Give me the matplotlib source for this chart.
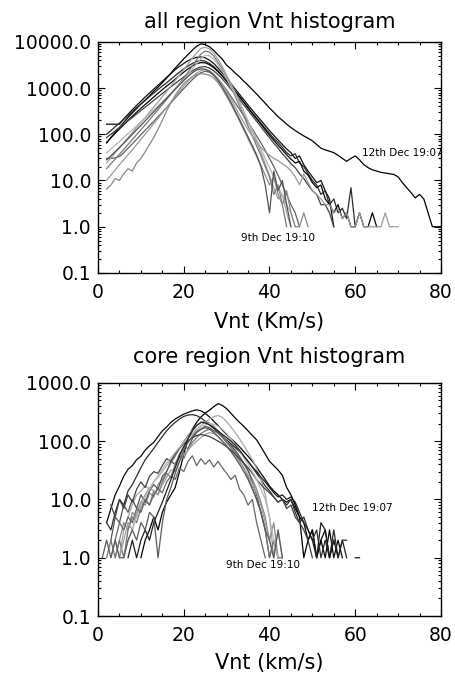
import numpy as np
import matplotlib
matplotlib.use("Agg")
import matplotlib.pyplot as plt
from matplotlib.ticker import (FixedLocator, MultipleLocator, LogLocator,
                               FormatStrFormatter, NullFormatter)

nan = np.nan

# ---------------- all region: counts per 1 km/s bin, first bin at *_start ----------------
all_start = [2, 2, 2, 2, 2, 2, 2, 2, 2, 2, 2, 2]
all_colors = ["#000000", "#111111", "#2a2a2a", "#050505", "#404040", "#606060",
              "#a0a0a0", "#787878", "#b4b4b4", "#888888", "#9a9a9a", "#505050"]
all_01 = [65, 85, 110, 140, 180, 230, 290, 360, 450, 550, 680, 850, 1050, 1300, 1650, 2100, 2700, 3400,
          4300, 5300, 6600, 8000, 9000, 8700, 7800, 6500, 5200, 4200, 3100, 2600, 2100, 1750, 1400, 1150,
          920, 740, 590, 470, 370, 300, 240, 200, 165, 140, 120, 105, 92, 82, 72, 60, 50, 46, 43, 40, 35,
          30, 26, 30, 34, 28, 22, 19, 17, 16, 15, 14.5, 14, 13.5, 12, 9, 7, 5.5, 4.2, 5, 4, 2, 1, 1, 1]
all_02 = [165, 165, 165, 165, 215, 270, 340, 420, 520, 640, 780, 950, 1150, 1400, 1700, 2050, 2500, 2950,
          3400, 3900, 4300, 4600, 4700, 4500, 4000, 3400, 2700, 2100, 1650, 1250, 950, 730, 560, 430, 330,
          255, 200, 155, 120, 95, 75, 60, 48, 40, 30, 34, 22, 16, 12, 9, 10, 6, 4, 1]
all_03 = [100, 120, 145, 175, 210, 255, 310, 375, 450, 540, 650, 780, 930, 1100, 1300, 1550, 1850, 2200,
          2600, 3000, 3400, 3750, 3950, 3800, 3400, 2900, 2350, 1850, 1450, 1100, 850, 650, 500, 380, 290,
          225, 175, 135, 105, 82, 66, 52, 40, 34, 38, 24, 20, 14, 10, 8, 5, 6, 3, 4, 2, 2.5, 1.5, 7, 1]
all_04 = [66, 84, 105, 130, 160, 200, 245, 300, 365, 440, 530, 640, 770, 920, 1100, 1300, 1550, 1850,
          2200, 2600, 3000, 3350, 3550, 3500, 3200, 2750, 2250, 1800, 1400, 1080, 830, 640, 490, 370, 280,
          215, 165, 125, 95, 74, 58, 46, 36, 29, 24, 26, 16, 13, 9, 7, 8, 4, 3, 2, 3, 1.5, 2, 1, 1, 2, 1,
          1, 2, 1]
all_05 = [85, 100, 118, 140, 165, 195, 230, 275, 325, 385, 455, 540, 640, 760, 900, 1060, 1250, 1480,
          1740, 2030, 2350, 2650, 2850, 2900, 2700, 2350, 1950, 1570, 1230, 950, 730, 560, 430, 330, 250,
          190, 145, 110, 84, 64, 50, 38, 30, 23, 19, 14, 11, 8, 6, 5, 3, 3, 2, 1]
all_06 = [30, 30, 31, 33, 40, 50, 62, 78, 98, 122, 152, 190, 240, 300, 380, 480, 610, 770, 970, 1220,
          1520, 1850, 2150, 2300, 2200, 1900, 1550, 1200, 900, 660, 480, 350, 250, 180, 130, 92, 65, 45,
          30, 20, 13, 8, 5, 3, 2, 1]
all_07 = [24, 31, 40, 51, 65, 84, 108, 140, 180, 230, 300, 390, 500, 650, 840, 1100, 1450, 1900, 2500,
          3300, 4400, 5800, 7200, 7600, 7000, 5700, 4200, 2900, 1900, 1250, 800, 500, 310, 190, 115, 70,
          40, 23, 13, 7, 4, 5, 2, 1]
all_08 = [18, 23, 29, 37, 47, 60, 77, 98, 125, 160, 205, 265, 340, 440, 570, 740, 960, 1250, 1650, 2200,
          3000, 4100, 5400, 6300, 6000, 4900, 3600, 2500, 1650, 1050, 660, 410, 250, 150, 92, 56, 34, 20,
          12, 5, 8, 3, 1]
all_09 = [40, 48, 58, 70, 85, 103, 125, 152, 185, 225, 275, 335, 410, 500, 620, 770, 960, 1200, 1520,
          1950, 2550, 3350, 4300, 5100, 5000, 4200, 3200, 2300, 1600, 1080, 720, 470, 300, 190, 120, 76,
          48, 30, 19, 12, 7, 5, 3, 2, 1]
all_10 = [6.5, 8, 11, 10, 14, 18, 16, 24, 30, 42, 60, 85, 130, 200, 320, 480, 700, 950, 1250, 1500,
          1750, 1950, 2040, 2000, 1900, 1650, 1300, 950, 660, 450, 300, 195, 125, 80, 52, 33, 21, 13, 8,
          12, 5, 3, 6, 2, 1, 1, 2, 1]
all_11 = [10, 13, 17, 22, 28, 36, 46, 60, 78, 100, 130, 170, 220, 290, 380, 500, 650, 850, 1100, 1400,
          1750, 2100, 2400, 2500, 2350, 2000, 1600, 1200, 850, 580, 390, 260, 180, 125, 90, 68, 52, 42,
          35, 30, 27, 23, 20, 16, 12, 8, 14, 9, 6, 5, 4, 3, 3, 2, 2.5, 1.5, 2, 1, 1, 2, 1, 1, 1, 1, 1, 2,
          1, 1, 1]
all_12 = [28, 34, 42, 52, 64, 80, 100, 125, 155, 195, 245, 305, 385, 480, 600, 750, 940, 1170, 1450,
          1780, 2150, 2450, 2600, 2550, 2300, 1900, 1450, 1050, 730, 490, 320, 210, 135, 88, 56, 36, 20,
          8, 2, 16, 6, 10, 3, 1]
all_series = [all_01, all_02, all_03, all_04, all_05, all_06,
              all_07, all_08, all_09, all_10, all_11, all_12]

# ---------------- core region ----------------
core_start = [10, 2, 2, 3, 4, 3, 2, 5, 3, 6, 4, 7, 1]
core_colors = ["#000000", "#080808", "#2b2b2b", "#a8a8a8", "#8a8a8a", "#555555", "#747474",
               "#9c9c9c", "#404040", "#b8b8b8", "#666666", "#1e1e1e", "#5a5a5a"]
core_01 = [1, 2, 3, 5, 3, 6, 9, 12, 16, 30, 60, 110, 160, 210, 260, 300, 340, 390, 440, 410, 360, 300,
           250, 210, 180, 150, 125, 105, 80, 60, 45, 38, 32, 26, 16, 12, 8, 5, 1, 2, 3, 1, 2, 3, 1, 2]
core_02 = [4, 7, 12, 17, 25, 33, 38, 48, 55, 70, 83, 95, 120, 150, 175, 210, 240, 265, 290, 310, 330,
           345, 330, 300, 260, 220, 185, 155, 130, 110, 95, 80, 66, 55, 45, 36, 28, 22, 17, 14, 12, 10,
           9, 10, 7, 5, 4, 2, 3, 1, 2, 1, 3, 1, 2, 1]
core_03 = [4, 3, 6, 10, 8, 14, 18, 25, 35, 48, 60, 75, 95, 120, 150, 180, 210, 240, 265, 280, 285, 275,
           250, 220, 190, 165, 140, 120, 105, 90, 78, 66, 55, 45, 36, 28, 22, 17, 14, 11, 9, 10, 8, 10, 6,
           4, 5, 3, 2, 3, 1, 2, 1, 3, 1, 2, 2]
core_04 = [1, 2, 1, 3, 5, 8, 12, 14, 17, 15, 20, 24, 30, 38, 48, 60, 75, 92, 112, 135, 160, 185, 210,
           240, 262, 275, 255, 215, 175, 140, 110, 85, 64, 48, 34, 22, 12, 5, 1]
core_05 = [1, 2, 4, 3, 6, 5, 9, 8, 13, 11, 18, 22, 30, 42, 55, 75, 100, 125, 155, 185, 210, 220, 205,
           180, 150, 125, 100, 82, 66, 52, 40, 30, 22, 15, 9, 5, 2, 4, 1]
core_06 = [2, 5, 4, 8, 6, 10, 7, 12, 9, 14, 18, 15, 25, 30, 45, 40, 60, 80, 75, 110, 140, 160, 180, 170,
           150, 140, 120, 95, 85, 70, 55, 42, 32, 20, 12, 6, 3, 1, 2, 1]
core_07 = [1, 2, 1, 2, 1, 3, 5, 4, 7, 10, 8, 14, 12, 20, 28, 24, 40, 55, 50, 75, 95, 115, 135, 150, 160,
           150, 135, 115, 95, 78, 60, 46, 34, 24, 16, 10, 6, 3, 1, 2, 1, 1]
core_08 = [1, 2, 4, 3, 6, 9, 12, 16, 14, 12, 18, 24, 32, 30, 45, 60, 70, 85, 100, 115, 130, 140, 135,
           120, 100, 85, 70, 56, 44, 34, 26, 19, 13, 8, 4, 2, 1, 3, 1]
core_09 = [8, 5, 10, 7, 12, 9, 15, 20, 16, 25, 30, 28, 38, 50, 45, 60, 75, 90, 100, 115, 125, 130, 125,
           120, 110, 100, 90, 80, 70, 60, 50, 42, 35, 28, 22, 18, 15, 13, 11, 9, 10, 7, 8, 5, 4, 3, 2, 1]
core_10 = [1, 2, 3, 5, 8, 11, 15, 20, 26, 33, 42, 52, 64, 78, 95, 112, 130, 150, 170, 190, 200, 195,
           180, 160, 135, 110, 88, 68, 52, 40, 30, 22, 15, 10, 5, 2, 1]
core_11 = [2, 4, 3, 5, 4, 7, 6, 10, 8, 12, 15, 13, 20, 25, 22, 35, 30, 45, 56, 38, 50, 40, 48, 36, 45,
           35, 28, 22, 26, 15, 12, 8, 10, 4, 2, 1]
core_12 = [1, 2, 1, 2, 3, 2, 4, 6, 9, 14, 22, 35, 55, 80, 110, 150, 185, 210, 205, 190, 170, 150, 130,
           115, 100, 85, 70, 56, 45, 36, 30, 24, 20, 16, 13, 11, 12, 10, 11, 9, 6, 4, 3, 2, 1, 4, 3, 1,
           2, 1, 2, 1, nan, 1, 1]
core_13 = [1, 2, 1, 2, 1, 1, 2, 3, 2, 4, 3, 6, 5, 1, 4, 10, 16, 28, 45, 70, 95, 120, 145, 160, 170, 160,
           140, 120, 100, 82, 66, 52, 40, 30, 22, 15, 10, 6, 3, 2, 1, 3, 1]
core_series = [core_01, core_02, core_03, core_04, core_05, core_06, core_07,
               core_08, core_09, core_10, core_11, core_12, core_13]

y_ticks_all = [0.1, 1, 10, 100, 1000, 10000]
y_ticks_core = [0.1, 1, 10, 100, 1000]
x_ticks = [0, 20, 40, 60, 80]


def style_axis(ax, ymax, yticks):
    ax.set_xlim(0, 80)
    ax.set_ylim(0.1, ymax)
    ax.set_yscale("log")
    ax.xaxis.set_major_locator(FixedLocator(x_ticks))
    ax.xaxis.set_minor_locator(MultipleLocator(5))
    ax.yaxis.set_major_locator(FixedLocator(yticks))
    ax.yaxis.set_minor_locator(LogLocator(base=10, subs=range(2, 10)))
    ax.yaxis.set_major_formatter(FormatStrFormatter("%.1f"))
    ax.yaxis.set_minor_formatter(NullFormatter())
    ax.tick_params(which="both", direction="in", top=True, right=True, width=0.8)
    ax.tick_params(which="major", length=5, labelsize=13.5)
    ax.tick_params(which="minor", length=2.5)
    ax.tick_params(axis="x", pad=7)
    ax.tick_params(axis="y", pad=5)
    for s in ax.spines.values():
        s.set_linewidth(1.0)


fig = plt.figure(figsize=(4.56, 6.74), dpi=100)
ax1 = fig.add_axes([0.215, 0.595, 0.752, 0.343])
ax2 = fig.add_axes([0.215, 0.086, 0.752, 0.346])

for start, vals, c in zip(all_start, all_series, all_colors):
    x = np.arange(start, start + len(vals))
    ax1.plot(x, vals, color=c, lw=0.9)
style_axis(ax1, 10000, y_ticks_all)
ax1.text(71.1, 40, "12th Dec 19:07", fontsize=7.5, ha="center", va="center")
ax1.text(42.1, 0.58, "9th Dec 19:10", fontsize=7.5, ha="center", va="center")

for start, vals, c in zip(core_start, core_series, core_colors):
    x = np.arange(start, start + len(vals))
    ax2.plot(x, vals, color=c, lw=0.9)
style_axis(ax2, 1000, y_ticks_core)
ax2.text(59.4, 7.0, "12th Dec 19:07", fontsize=7.5, ha="center", va="center")
ax2.text(38.6, 0.76, "9th Dec 19:10", fontsize=7.5, ha="center", va="center")

fig.text(0.591, 0.967, "all region Vnt histogram", fontsize=15, ha="center", va="center")
fig.text(0.591, 0.522, "Vnt (Km/s)", fontsize=15, ha="center", va="center")
fig.text(0.591, 0.470, "core region Vnt histogram", fontsize=15, ha="center", va="center")
fig.text(0.591, 0.017, "Vnt (km/s)", fontsize=15, ha="center", va="center")

fig.savefig("out.png", dpi=100)
